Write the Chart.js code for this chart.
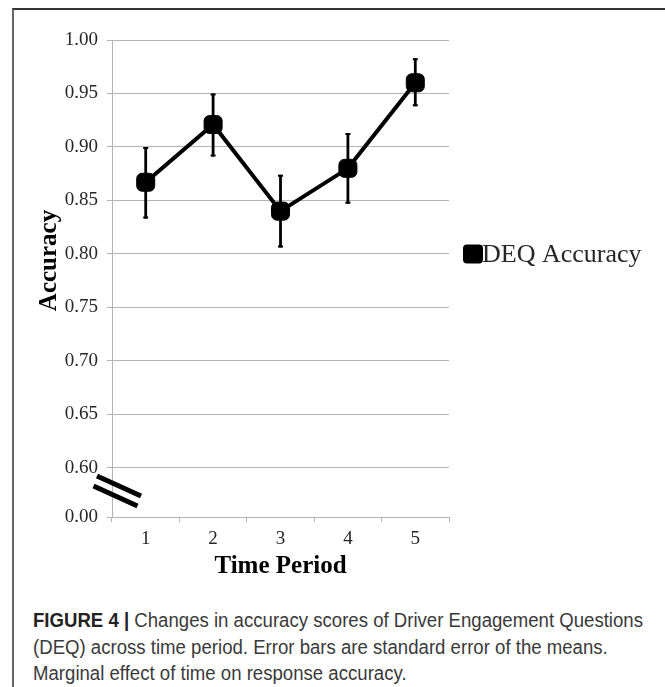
<!DOCTYPE html>
<html>
<head>
<meta charset="utf-8">
<title>Figure 4 - DEQ Accuracy</title>
<script src="https://cdn.jsdelivr.net/npm/chart.js@4.4.1/dist/chart.umd.min.js"></script>
<style>
    html, body {
        margin: 0;
        padding: 0;
        background: #ffffff;
    }
    body {
        width: 665px;
        height: 687px;
        position: relative;
        overflow: hidden;
    }
    .moldura {
        position: absolute;
        left: 12px;
        top: 8px;
        right: 0;
        bottom: 0;
        border-top: 2px solid #333333;
        border-left: 2px solid #666666;
    }
    #grafico-box {
        position: absolute;
        left: 0;
        top: 0;
        width: 665px;
        height: 600px;
    }
    .legenda {
        position: absolute;
        left: 33px;
        top: 607px;
        font-family: "Liberation Sans", Arial, sans-serif;
        font-size: 20px;
        line-height: 26.5px;
        color: #3a3a3a;
        white-space: nowrap;
        transform: scaleX(0.93);
        transform-origin: left top;
    }
    .legenda b {
        color: #222222;
    }
</style>
</head>
<body>
<div class="moldura"></div>
<div id="grafico-box">
    <canvas id="grafico"></canvas>
</div>
<div class="legenda">
    <b>FIGURE 4 |</b> Changes in accuracy scores of Driver Engagement Questions<br>
    (DEQ) across time period. Error bars are standard error of the means.<br>
    Marginal effect of time on response accuracy.
</div>

<script>
// Dados
const periodos = ['1', '2', '3', '4', '5'];
const acuracia = [0.867, 0.921, 0.840, 0.880, 0.960];
const erroSuperior = [0.900, 0.950, 0.874, 0.913, 0.983];
const erroInferior = [0.833, 0.891, 0.806, 0.847, 0.938];

// Eixo Y quebrado: 0.60 ... 1.00, e o ultimo tick rotulado 0.00
const ticksY = [0.554, 0.60, 0.65, 0.70, 0.75, 0.80, 0.85, 0.90, 0.95, 1.00];
const rotulosY = ['0.00', '0.60', '0.65', '0.70', '0.75', '0.80', '0.85', '0.90', '0.95', '1.00'];

const nomeSerie = 'DEQ Accuracy';
const tituloX = 'Time Period';
const tituloY = 'Accuracy';

const fonteSerif = '"Liberation Serif", "Times New Roman", serif';
const corGrade = '#b4b4b4';
const corTexto = '#262626';

// Barras de erro
const pluginErro = {
    id: 'barrasErro',
    afterDatasetsDraw(chart) {
        const ctx = chart.ctx;
        const x = chart.scales.x;
        const y = chart.scales.y;
        ctx.save();
        ctx.strokeStyle = '#000000';
        ctx.lineCap = 'butt';
        acuracia.forEach((v, i) => {
            const px = x.getPixelForValue(i);
            const yTop = y.getPixelForValue(erroSuperior[i]);
            const yBot = y.getPixelForValue(erroInferior[i]);
            ctx.lineWidth = 2.8;
            ctx.beginPath();
            ctx.moveTo(px, yTop);
            ctx.lineTo(px, yBot);
            ctx.stroke();
            // tampas
            ctx.lineWidth = 2;
            ctx.beginPath();
            ctx.moveTo(px - 2.5, yTop + 1);
            ctx.lineTo(px + 2.5, yTop + 1);
            ctx.moveTo(px - 2.5, yBot - 1);
            ctx.lineTo(px + 2.5, yBot - 1);
            ctx.stroke();
        });
        ctx.restore();
    }
};

// Marca de quebra do eixo, titulo Y e legenda
const pluginExtras = {
    id: 'extras',
    afterDraw(chart) {
        const ctx = chart.ctx;
        const y = chart.scales.y;
        const area = chart.chartArea;
        ctx.save();

        // duas barras inclinadas entre 0.60 e 0.00
        const meio = (y.getPixelForValue(0.60) + y.getPixelForValue(ticksY[0])) / 2;
        ctx.strokeStyle = '#000000';
        ctx.lineWidth = 5;
        [[area.left + 7, meio - 6.5], [area.left + 3.5, meio + 3.5]].forEach(([cx, cy]) => {
            ctx.beginPath();
            ctx.moveTo(cx - 22, cy - 10);
            ctx.lineTo(cx + 22, cy + 10);
            ctx.stroke();
        });

        // titulo do eixo Y
        ctx.fillStyle = '#000000';
        ctx.font = 'bold 25px ' + fonteSerif;
        ctx.textAlign = 'center';
        ctx.textBaseline = 'alphabetic';
        ctx.translate(56, (area.top + area.bottom) / 2 - 18);
        ctx.rotate(-Math.PI / 2);
        ctx.fillText(tituloY, 0, 0);
        ctx.setTransform(1, 0, 0, 1, 0, 0);

        // legenda
        const lx = area.right + 14;
        const ly = y.getPixelForValue(0.80);
        ctx.beginPath();
        ctx.roundRect(lx, ly - 9.5, 20, 19, 4);
        ctx.fillStyle = '#000000';
        ctx.fill();
        ctx.fillStyle = corTexto;
        ctx.font = '26px ' + fonteSerif;
        ctx.textAlign = 'left';
        ctx.fillText(nomeSerie, lx + 19, ly + 8.5);
        ctx.restore();
    }
};

function criarGrafico() {
    const ctx = document.getElementById('grafico').getContext('2d');
    new Chart(ctx, {
        type: 'line',
        data: {
            labels: periodos,
            datasets: [{
                label: nomeSerie,
                data: acuracia,
                borderColor: '#000000',
                borderWidth: 4,
                backgroundColor: '#000000',
                pointStyle: 'rectRounded',
                pointRadius: 10.5,
                pointBorderWidth: 1,
                pointBackgroundColor: '#000000',
                pointBorderColor: '#000000',
                tension: 0
            }]
        },
        options: {
            responsive: true,
            maintainAspectRatio: false,
            animation: false,
            layout: {
                padding: { left: 0, top: 40, right: 216, bottom: 0 }
            },
            plugins: {
                legend: { display: false },
                tooltip: { enabled: false }
            },
            scales: {
                x: {
                    type: 'category',
                    offset: true,
                    grid: {
                        offset: true,
                        drawOnChartArea: false,
                        color: corGrade,
                        tickLength: 5
                    },
                    border: { color: corGrade, width: 1 },
                    ticks: {
                        color: corTexto,
                        font: { family: fonteSerif, size: 19 },
                        padding: 6,
                        maxRotation: 0
                    },
                    title: {
                        display: true,
                        text: tituloX,
                        color: '#000000',
                        font: { family: fonteSerif, size: 25, weight: 'bold' },
                        padding: { top: 0, bottom: 18 }
                    },
                    afterFit(scale) {
                        scale.height = 83;
                    }
                },
                y: {
                    min: ticksY[0],
                    max: 1.0,
                    afterBuildTicks(scale) {
                        scale.ticks = ticksY.map(v => ({ value: v }));
                    },
                    grid: {
                        color: corGrade,
                        tickLength: 5
                    },
                    border: { color: corGrade, width: 1 },
                    ticks: {
                        color: corTexto,
                        font: { family: fonteSerif, size: 19 },
                        padding: 9,
                        callback: function(value, index) {
                            return rotulosY[index];
                        }
                    },
                    afterFit(scale) {
                        scale.width = 112;
                    }
                }
            }
        },
        plugins: [pluginErro, pluginExtras]
    });
}

document.addEventListener('DOMContentLoaded', () => {
    criarGrafico();
});
</script>
</body>
</html>
